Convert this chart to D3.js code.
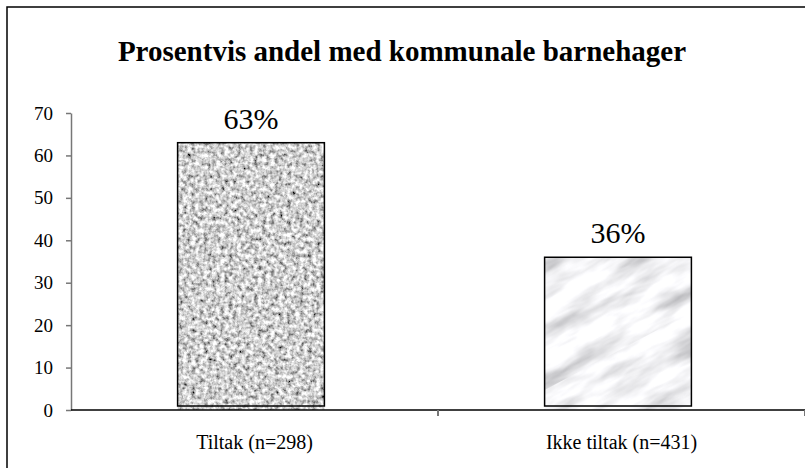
<!DOCTYPE html>
<html>
<head>
<meta charset="utf-8">
<script src="https://cdn.jsdelivr.net/npm/d3@7"></script>
<style>
  body { margin: 0; background: #fff; }
</style>
</head>
<body>
<svg id="chart" width="805" height="468"></svg>
<script>
// data
const categories = ["Tiltak (n=298)", "Ikke tiltak (n=431)"];
const values = [63, 36];
const valueLabels = ["63%", "36%"];
const yTicks = [0, 10, 20, 30, 40, 50, 60, 70];
const title = "Prosentvis andel med kommunale barnehager";

const width = 805;
const height = 468;
const margin = { top: 113, right: 0, bottom: 58, left: 71 };
const serif = '"Liberation Serif", "Times New Roman", serif';

const svg = d3.select("#chart");

// textures: granite for the first bar, marble for the second
const defs = svg.append("defs");

const granite = defs.append("filter").attr("id", "granite")
    .attr("x", 0).attr("y", 0).attr("width", 1).attr("height", 1);
granite.append("feTurbulence")
    .attr("type", "fractalNoise").attr("baseFrequency", 0.24)
    .attr("numOctaves", 3).attr("seed", 3).attr("result", "noise");
granite.append("feColorMatrix").attr("in", "noise").attr("type", "matrix")
    .attr("values", "1.7 0 0 0 -0.22  1.7 0 0 0 -0.22  1.7 0 0 0 -0.22  0 0 0 0 1");

const marble = defs.append("filter").attr("id", "marble")
    .attr("x", 0).attr("y", 0).attr("width", 1).attr("height", 1);
marble.append("feTurbulence")
    .attr("type", "fractalNoise").attr("baseFrequency", "0.014 0.05")
    .attr("numOctaves", 4).attr("seed", 11).attr("result", "noise");
marble.append("feColorMatrix").attr("in", "noise").attr("type", "matrix")
    .attr("values", "1.1 0 0 0 0.33  1.1 0 0 0 0.33  1.1 0 0 0 0.35  0 0 0 0 1");

// marble streaks run diagonally, so put it in a rotated pattern
const marblePattern = defs.append("pattern").attr("id", "marbleFill")
    .attr("patternUnits", "userSpaceOnUse")
    .attr("width", 600).attr("height", 600)
    .attr("patternTransform", "rotate(-28)");
marblePattern.append("rect")
    .attr("width", 600).attr("height", 600)
    .attr("filter", "url(#marble)");

const granitePattern = defs.append("pattern").attr("id", "graniteFill")
    .attr("patternUnits", "userSpaceOnUse")
    .attr("width", 600).attr("height", 600);
granitePattern.append("rect")
    .attr("width", 600).attr("height", 600)
    .attr("filter", "url(#granite)");

// outer frame (open on the right, as in the original)
svg.append("rect")
    .attr("x", 7).attr("y", 7)
    .attr("width", width + 10).attr("height", height + 10)
    .attr("fill", "none").attr("stroke", "#000").attr("stroke-width", 1.5);

// title
svg.append("text")
    .attr("x", 402).attr("y", 61)
    .attr("text-anchor", "middle")
    .style("font-family", serif)
    .attr("font-size", 29).attr("font-weight", "bold")
    .text(title);

const x = d3.scaleBand()
    .domain(categories)
    .range([margin.left, width])
    .paddingInner(0.6)
    .paddingOuter(0.3);

const y = d3.scaleLinear()
    .domain([0, 70])
    .range([height - margin.bottom, margin.top]);

const shift = -3.5;  // bars sit a little left of the band centres
const bars = svg.append("g");

// texture rectangles
bars.selectAll("rect.fill")
    .data(values)
    .enter().append("rect")
    .attr("class", "fill")
    .attr("x", (d, i) => x(categories[i]) + shift)
    .attr("y", d => y(d))
    .attr("width", x.bandwidth())
    .attr("height", d => y(0) - y(d))
    .attr("fill", (d, i) => i === 0 ? "url(#graniteFill)" : "url(#marbleFill)");

// bar outlines stop a few pixels above the axis
bars.selectAll("rect.outline")
    .data(values)
    .enter().append("rect")
    .attr("class", "outline")
    .attr("x", (d, i) => x(categories[i]) + shift)
    .attr("y", d => y(d))
    .attr("width", x.bandwidth())
    .attr("height", d => y(0) - y(d) - 4)
    .attr("fill", "none")
    .attr("stroke", "#000").attr("stroke-width", 1.5);

// value labels
svg.selectAll("text.value")
    .data(values)
    .enter().append("text")
    .attr("class", "value")
    .attr("x", (d, i) => x(categories[i]) + shift + x.bandwidth() / 2)
    .attr("y", d => y(d) - 14)
    .attr("text-anchor", "middle")
    .style("font-family", serif)
    .attr("font-size", 30)
    .text((d, i) => valueLabels[i]);

// y axis
const yAxis = svg.append("g")
    .attr("transform", `translate(${margin.left},0)`)
    .call(d3.axisLeft(y).tickValues(yTicks).tickSize(5).tickSizeOuter(0).tickPadding(13));
yAxis.select(".domain").attr("stroke", "#777").attr("stroke-width", 1.5);
yAxis.selectAll(".tick line").attr("stroke", "#777").attr("stroke-width", 1.5);
yAxis.selectAll(".tick text")
    .style("font-family", serif)
    .attr("font-size", 19).attr("fill", "#000");

// x axis: ticks sit between the categories
const xAxis = svg.append("g")
    .attr("transform", `translate(0,${y(0)})`);
xAxis.append("line")
    .attr("x1", margin.left).attr("x2", width)
    .attr("stroke", "#000").attr("stroke-width", 1.5);
xAxis.selectAll("line.tick")
    .data(categories)
    .enter().append("line")
    .attr("class", "tick")
    .attr("x1", d => x(d) + x.bandwidth() / 2 + x.step() / 2)
    .attr("x2", d => x(d) + x.bandwidth() / 2 + x.step() / 2)
    .attr("y1", 0).attr("y2", 6)
    .attr("stroke", "#777").attr("stroke-width", 2);
xAxis.selectAll("text")
    .data(categories)
    .enter().append("text")
    .attr("x", d => x(d) + x.bandwidth() / 2)
    .attr("y", 39)
    .attr("text-anchor", "middle")
    .style("font-family", serif)
    .attr("font-size", 20)
    .text(d => d);
</script>
</body>
</html>
